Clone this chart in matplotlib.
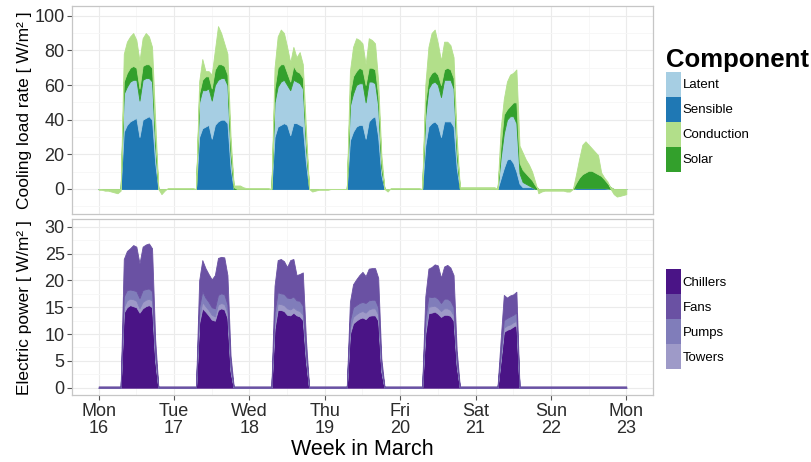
import matplotlib.pyplot as plt
from matplotlib.patches import Patch
from matplotlib.ticker import MultipleLocator
import numpy as np

plt.rcParams['font.family'] = ['Liberation Sans', 'DejaVu Sans']

# hourly data, Mon 16 00:00 .. Mon 23 00:00
day_names = ['Mon\n16', 'Tue\n17', 'Wed\n18', 'Thu\n19', 'Fri\n20', 'Sat\n21', 'Sun\n22', 'Mon\n23']
first_hour = 7   # daytime blocks cover hours 7..20

# cooling load components [W/m2], daytime blocks (hours 7..20)
sensible = [
    [0, 33, 37, 39, 40, 41, 30, 40, 41, 42, 40, 15, 0, 0],
    [0, 30, 35, 36, 37, 29, 37, 39, 40, 40, 38, 12, 0, 0],
    [0, 30, 36, 37, 38, 37, 31, 38, 38, 37, 36, 15, 0, 0],
    [0, 28, 33, 36, 37, 37, 29, 39, 41, 42, 30, 8, 0, 0],
    [0, 25, 36, 38, 39, 37, 30, 39, 39, 39, 36, 12, 0, 0],
    [0, 6, 12, 17, 17.5, 15, 10, 3, 1, 1, 1, 1, 0, 0],
    [0, .5, .5, .5, .5, .5, .5, .5, .5, .5, .5, .3, 0, 0],
]
latent = [
    [0, 22, 22, 23, 23, 22, 21, 23, 23, 22, 22, 10, 0, 0],
    [0, 20, 22, 21, 21, 22, 23, 24, 24, 24, 22, 8, 0, 0],
    [0, 20, 23, 25, 25, 23, 26, 25, 24, 24, 22, 10, 0, 0],
    [0, 20, 22, 24, 24, 24, 21, 23, 21, 19, 18, 4, 0, 0],
    [0, 17, 22, 23, 23, 23, 23, 24, 24, 24, 22, 8, 0, 0],
    [0, 12, 20, 23, 24.5, 27, 28, 6, 3, 2, 1, 0, 0, 0],
    [],
]
solar = [
    [0, 7, 8, 8, 8, 7, 7, 8, 8, 8, 8, 5, 0, 0],
    [0, 5, 6, 8, 7, 7, 9, 9, 8, 7, 6, 4, 1, 0],
    [0, 8, 11, 10, 9, 7, 5, 8, 6, 6, 6, 3, 0, 0],
    [0, 7, 10, 8, 9, 8, 10, 8, 8, 8, 6, 3, 0, 0],
    [0, 8, 6, 6, 6, 6, 7, 6, 7, 6, 6, 4, 0, 0],
    [0, 7, 11, 6, 6, 8, 12, 6, 7, 6, 5, 4, 2, 0],
    [0, 3, 6, 8, 9, 10, 10, 9, 8, 7, 5, 3, 1, 0],
]
# conduction runs all day and night (hours 0..23)
conduction = [
    [-0.5, -0.5, -1, -1, -1.5, -2, -2.5, -1, 16, 18, 18, 19, 16, 16, 16, 18, 16, 12, 10, 0, -3, -1, 0.5, 0.5],
    [0.5, 0.5, 0.5, 0.5, 0.5, 0.5, 0.5, 0, 7, 12, 3, 3, 8, 11, 22, 18, 13, 12, 6, 1, 2, 2, 1, 0.5],
    [0.5, 0.5, 0.5, 0.5, 0.5, 0.5, 0.5, 0, 12, 18, 20, 18, 15, 11, 11, 8, 12, 8, 7, 0, -1.5, -1, -0.5, -0.5],
    [-0.5, -0.5, 0, 0, 0, 0, 0, 0, 13, 17, 19, 16, 15, 12, 17, 16, 15, 8, 5, 0, -1.5, 0.5, 0.5, 0.5],
    [0.5, 0.5, 0.5, 0.5, 0.5, 0.5, 0.5, 0, 10, 18, 23, 24, 18, 14, 16, 15, 14, 12, 6, 1, 1, 1, 1, 1],
    [1, 1, 1, 1, 1, 1, 1, 0, 10, 9, 16, 18, 17, 19, 10, 10, 8, 7, 5, 2, -2.5, -1.5, -1, -1],
    [-1, -1, -1, -1, -1, -1.5, -1.5, 0, 5, 11, 17, 18, 15, 13, 12, 11, 2, 1, 1, -1, -3, -4.4, -4, -3.5],
]
conduction_end = -3

# electric power components [W/m2], daytime blocks (hours 7..20)
chillers = [
    [0, 14, 15, 15.4, 15.2, 15, 14, 14.8, 15.2, 15.4, 15, 5, 0, 0],
    [0, 12, 14.8, 14.2, 13.5, 12.7, 12.5, 14.5, 14.8, 14.6, 13, 3, 0, 0],
    [0, 11, 14.5, 14.5, 14.3, 13.6, 13.5, 14, 13.5, 13.3, 12.6, 5, 0, 0],
    [0, 10, 12, 12.5, 12.9, 13.1, 12.8, 13.4, 13.5, 13.5, 12.5, 3, 0, 0],
    [0, 10, 13.9, 14, 14.2, 13.8, 13.2, 13.6, 13.6, 13.4, 12.5, 4, 0, 0],
    [0, 5, 10.4, 10.8, 11, 11.4, 11.7, 0],
    [],
]
towers = [
    [0, 1, 1.3, 1.2, 1.3, 1.2, 0.8, 1.2, 1.2, 1.2, 1.2, 0.5, 0, 0],
    [0, 1, 1.2, 1, 1, 0.9, 0.8, 1, 1, 1, 1, 0.3, 0, 0],
    [0, 1, 1.2, 1.1, 1.1, 1.2, 1.1, 1, 1, 1, 1, 0.5, 0, 0],
    [0, 1, 1.2, 1.2, 1.2, 1.2, 1.2, 1.2, 1.3, 1.3, 1.1, 0.3, 0, 0],
    [0, 1, 1.2, 1.2, 1.1, 1.1, 1.1, 1.2, 1.2, 1.1, 1, 0.4, 0, 0],
    [0, 0.5, 0.8, 0.8, 0.8, 0.8, 0.8, 0],
    [],
]
pumps = [
    [0, 2, 1.9, 1.7, 1.7, 1.8, 1.9, 2.2, 2, 1.9, 1.8, 1, 0, 0],
    [0, 2, 2, 1.6, 1.5, 1.4, 1.5, 1.8, 1.8, 1.8, 1.5, 0.7, 0, 0],
    [0, 2, 2.1, 2, 2.1, 2, 2.1, 2, 1.8, 1.9, 1.7, 1, 0, 0],
    [0, 1.5, 1.8, 1.7, 1.7, 1.7, 1.8, 1.7, 1.6, 1.6, 1.4, 0.7, 0, 0],
    [0, 2, 1.9, 1.7, 1.7, 1.7, 1.5, 1.8, 1.8, 1.7, 1.5, 0.6, 0, 0],
    [0, 1, 1.4, 1.4, 1.5, 1.4, 1.5, 0],
    [],
]
fans = [
    [0, 7, 7.3, 7.7, 8.4, 8.3, 6.5, 8.1, 8.3, 8.4, 8, 2.5, 0, 0],
    [0, 5, 5.8, 5.5, 5.2, 5.2, 6.2, 6.9, 6.8, 6.9, 5.5, 2, 0, 0],
    [0, 5, 6, 6.4, 6.1, 5.7, 7.1, 7, 4.7, 5, 6.2, 2.5, 0, 0],
    [0, 3.5, 4.3, 4.8, 5.2, 5.6, 5, 5.9, 5.9, 5.9, 5.5, 1.5, 0, 0],
    [0, 4, 5.2, 5.6, 6, 6.2, 4.7, 6, 6.3, 6.2, 6, 2, 0, 0],
    [0, 2.5, 4.7, 3.8, 3.9, 3.8, 3.9, 0],
    [],
]
fans_idle = 0.25   # fans never switch fully off


def week(rows, start=first_hour, end=0.0):
    out = []
    for r in rows:
        row = np.zeros(24)
        row[start:start + len(r)] = r
        out.append(row)
    return np.append(np.concatenate(out), end)


t = np.arange(7 * 24 + 1) / 24.0   # days since Mon 00:00

cooling = [
    ('Sensible', week(sensible), '#1f78b4'),
    ('Latent', week(latent), '#a6cee3'),
    ('Solar', week(solar), '#33a02c'),
    ('Conduction', week(conduction, start=0, end=conduction_end), '#b2df8a'),
]
power = [
    ('Chillers', week(chillers), '#4a1486'),
    ('Towers', week(towers), '#9e9ac8'),
    ('Pumps', week(pumps), '#807dba'),
    ('Fans', np.maximum(week(fans), fans_idle), '#6a51a3'),
]

fig = plt.figure(figsize=(8.12, 4.62), dpi=100)
ax_top = fig.add_axes([0.0890, 0.5374, 0.7148, 0.4496])
ax_bot = fig.add_axes([0.0890, 0.1450, 0.7148, 0.3803])


def stack(ax, series):
    base = np.zeros_like(t)
    for name, vals, col in series:
        ax.fill_between(t, base, base + vals, facecolor=col, edgecolor=col, lw=0.6)
        base = base + vals


stack(ax_top, cooling)
stack(ax_bot, power)

for ax in (ax_top, ax_bot):
    ax.set_xlim(-0.35, 7.35)
    ax.xaxis.set_major_locator(MultipleLocator(1))
    ax.xaxis.set_minor_locator(MultipleLocator(0.5))
    ax.grid(which='major', color='#ebebeb', lw=0.8)
    ax.grid(which='minor', color='#f6f6f6', lw=0.6)
    ax.set_axisbelow(True)
    for s in ax.spines.values():
        s.set_color('#c6c6c6')
        s.set_linewidth(0.9)
    ax.tick_params(which='major', length=3.5, width=0.8, color='#555555',
                   labelsize=13, labelcolor='#2b2b2b', pad=2)
    ax.tick_params(which='minor', length=0)

ax_top.set_ylim(-14.3, 105.6)
ax_top.yaxis.set_major_locator(MultipleLocator(20))
ax_top.yaxis.set_minor_locator(MultipleLocator(10))
ax_top.tick_params(axis='x', which='both', length=0, labelbottom=False)

ax_bot.set_ylim(-1.36, 31.4)
ax_bot.yaxis.set_major_locator(MultipleLocator(5))
ax_bot.yaxis.set_minor_locator(MultipleLocator(2.5))
ax_bot.set_xticks(range(8))
ax_bot.set_xticklabels(day_names, linespacing=1.0)

ax_top.set_ylabel('Cooling load rate [ W/m\u00b2 ]', fontsize=12.5)
ax_bot.set_ylabel('Electric power [ W/m\u00b2 ]', fontsize=12.5)
for ax in (ax_top, ax_bot):
    ax.yaxis.set_label_coords(-0.0694, 0.5)
ax_bot.set_xlabel('Week in March', fontsize=15.5, labelpad=2)

# legends, keys in the order of the factor levels
leg_kw = dict(loc='center left', frameon=False, fontsize=9.5,
              title_fontproperties={'weight': 'bold', 'size': 18.5},
              handlelength=1.14, handleheight=2.54, labelspacing=0,
              handletextpad=0.15, borderpad=0, borderaxespad=0, alignment='left')

top_order = ['Latent', 'Sensible', 'Conduction', 'Solar']
top_cols = {n: c for n, _, c in cooling}
ax_top.legend([Patch(facecolor=top_cols[n], edgecolor='none') for n in top_order], top_order,
              title='Component', bbox_to_anchor=(1.0224, 0.5), **leg_kw)

bot_order = ['Chillers', 'Fans', 'Pumps', 'Towers']
bot_cols = {n: c for n, _, c in power}
ax_bot.legend([Patch(facecolor=bot_cols[n], edgecolor='none') for n in bot_order], bot_order,
              title=' ', bbox_to_anchor=(1.0224, 0.5), **leg_kw)

fig.savefig('out.png', dpi=100)
